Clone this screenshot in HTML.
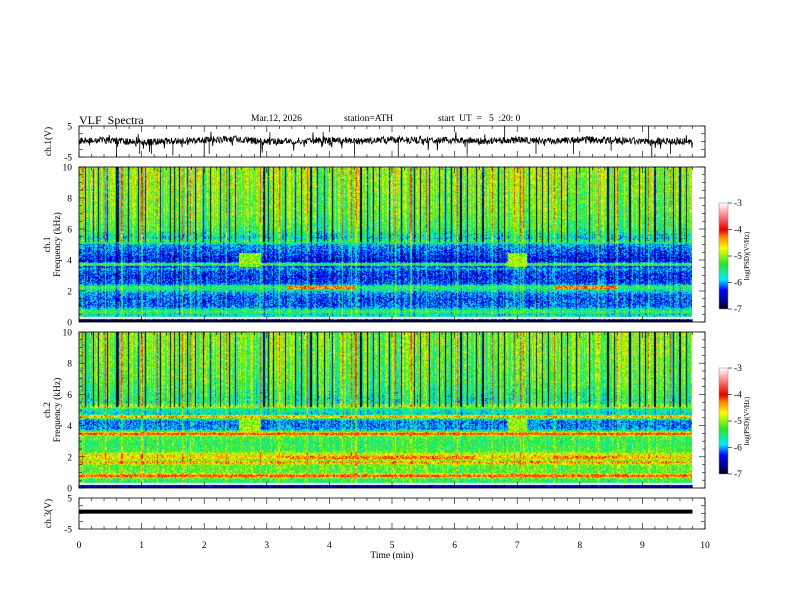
<!DOCTYPE html>
<html><head><meta charset="utf-8"><style>
body{margin:0;background:#fff}
#root{position:relative;width:792px;height:612px;overflow:hidden;background:#fff;font-family:"Liberation Serif",serif;color:#000}
.t{position:absolute;font-size:9px;white-space:nowrap;line-height:1}
canvas{position:absolute}
</style></head><body>
<div id="root">
<div class="t" style="left:79px;top:114px;font-size:12px">VLF&nbsp;&nbsp;Spectra</div>
<div class="t" style="left:251px;top:115px;font-size:9.5px">Mar.12, 2026</div>
<div class="t" style="left:344px;top:115px;font-size:9.5px">station=ATH</div>
<div class="t" style="left:438px;top:115px;font-size:9.5px">start&nbsp; UT&nbsp; =&nbsp;&nbsp; 5&nbsp; :20: 0</div>
<canvas id="spec1" width="613" height="155" style="left:79px;top:167px"></canvas>
<canvas id="spec2" width="613" height="156" style="left:79px;top:332px"></canvas>
<canvas id="cb1" width="9" height="106" style="left:719px;top:203px"></canvas>
<canvas id="cb2" width="9" height="106" style="left:719px;top:368px"></canvas>
<svg id="ov" width="792" height="612" style="position:absolute;left:0;top:0"></svg>
</div>
<script>
// ---- data ----
const timeTicks=[0,1,2,3,4,5,6,7,8,9,10];
const freqTicks=[0,2,4,6,8,10];
const cbTicks=[-3,-4,-5,-6,-7];
const ch1Freq=[0,0.15,0.25,0.3,0.5,0.7,0.9,1.0,1.5,1.9,2.1,2.3,2.5,3.0,3.3,3.5,3.6,3.7,3.8,3.9,4.0,4.5,5.0,5.15,5.3,5.45,6.0,7,10];
const ch1Level=[-7,-7,-5.6,-5.5,-5.8,-5.3,-5.8,-6.1,-6.2,-6.0,-5.6,-5.3,-6.2,-6.3,-6.2,-5.9,-6.4,-5.3,-5.3,-6.4,-6.4,-6.2,-6.0,-5.5,-5.5,-5.8,-5.4,-5.2,-5.0];
const ch2Freq=[0,0.1,0.2,0.3,0.5,0.65,0.75,0.85,0.95,1.0,1.5,1.62,1.72,1.82,1.95,2.1,2.25,2.4,3.0,3.35,3.45,3.55,3.65,3.8,4.3,4.45,4.55,4.65,4.75,5.1,5.2,5.3,5.5,7,10];
const ch2Level=[-7,-6.5,-6.8,-5.5,-5.4,-5.2,-4.1,-4.1,-4.8,-5.2,-5.2,-4.4,-4.4,-5.2,-4.6,-4.6,-4.9,-5.3,-5.4,-5.2,-4.1,-4.1,-5.3,-6.0,-6.1,-5.7,-4.5,-4.5,-5.8,-5.6,-5.0,-5.0,-5.6,-5.3,-5.1];
const darkTimes=[0.1,0.22,0.3,0.45,0.6,0.62,0.78,0.95,1.05,1.3,1.45,1.52,1.6,1.72,1.85,1.98,2.1,2.25,2.4,2.5,2.95,3.02,3.1,3.3,3.45,3.55,3.7,3.8,3.92,4.05,4.5,4.6,4.7,4.8,4.95,5.15,5.35,5.45,5.6,5.75,5.85,5.95,6.1,6.2,6.35,6.45,6.7,6.8,7.2,7.3,7.4,7.5,7.7,7.8,7.95,8.15,8.45,8.55,8.8,8.95,9.05,9.2,9.35,9.5,9.6,9.7];
const brightTimes=[0.05,0.42,0.68,1.0,1.25,1.65,1.78,2.35,2.9,3.2,3.65,4.2,4.35,4.42,5.05,5.3,5.55,6.05,6.6,6.95,7.05,7.1,7.6,8.3,8.6,9.1,9.45];
const blobTimes=[2.55,2.9,6.85,7.15];
const segCh1=[[3.3,4.4,2.25],[7.6,8.6,2.25]];
const segCh2=[[3.3,6.3,2.0],[7.6,8.6,2.0]];
const waveTimes=[0,0.5,1,1.5,2,2.5,3,3.5,4,4.5,5,5.5,6,6.5,7,7.5,8,8.5,9,9.5,9.8];
const waveBase=[0.3,0.5,-0.3,0.2,0.5,0.8,-0.1,0.2,0.3,0.0,0.6,0.3,0.4,0.2,0.5,0.1,0.6,0.3,0.2,0.1,0.0];
const spikeTimes=[0.6,0.97,1.16,1.5,2.0,2.08,2.9,3.05,3.9,4.4,5.1,6.2,6.8,7.3,7.9,8.5,9.1,9.15,9.45];
const spikeAmp=[-5,-4,-4,-4.5,-5,-4,-5,3,3,-4,-5,-4,5,-4,-4,-3,5,-5,-4];
const ch3Level=[0.6];
// ---- helpers ----
const X0=79,XW=626; const xs=t=>X0+t/10*XW;
function hash(a,b){let h=(a*374761393+b*668265263)|0;h=(h^(h>>>13))*1274126177|0;return ((h^(h>>>16))>>>0)/4294967296;}
function interp(xa,ya,x){if(x<=xa[0])return ya[0];for(let i=1;i<xa.length;i++)if(x<=xa[i]){const u=(x-xa[i-1])/(xa[i]-xa[i-1]);return ya[i-1]+u*(ya[i]-ya[i-1]);}return ya[ya.length-1];}
const cmV=[-7,-6.8,-6.3,-5.9,-5.3,-4.7,-4.3,-4,-3.5,-3];
const cmC=[[0,0,0],[0,0,120],[0,0,255],[0,235,255],[40,230,40],[255,255,0],[255,140,0],[230,0,0],[255,120,120],[255,255,255]];
function cmap(v){v=Math.max(-7,Math.min(-3,v));for(let i=1;i<cmV.length;i++)if(v<=cmV[i]){const u=(v-cmV[i-1])/(cmV[i]-cmV[i-1]);return cmC[i-1].map((c,k)=>c+u*(cmC[i][k]-c));}return cmC[cmC.length-1];}
function near(arr,t,w){for(const a of arr)if(Math.abs(a-t)<w)return true;return false;}
function drawSpec(id,fr,lv,segs,seed,lowDark){
 const cv=document.getElementById(id),g=cv.getContext('2d'),W=cv.width,H=cv.height,im=g.createImageData(W,H);
 for(let c=0;c<W;c++){const t=c/W*9.8;
  const dark=near(darkTimes,t,0.009),bright=near(brightTimes,t,0.009);
  const cn=(hash(c,seed)-0.45)*0.9;
  const blob=(t>blobTimes[0]&&t<blobTimes[1])||(t>blobTimes[2]&&t<blobTimes[3]);
  for(let r=0;r<H;r++){const f=10*(1-r/H);
   let v=interp(fr,lv,f);
   if(f>0.3){v+=cn*(f>5.2?1:0.4); if(dark)v-=(f>5.2?1.7:lowDark); if(bright)v+=(f>5.2?1.1:0.5);}
   if(blob&&f>3.6&&f<4.5)v=Math.max(v,-5.0);
   for(const s of segs)if(t>s[0]&&t<s[1]&&Math.abs(f-s[2])<0.08)v=-4.3;
   v+=(hash(c*7+r,r*13+seed)-0.5)*0.8;
   const col=cmap(v),k=(r*W+c)*4;im.data[k]=col[0];im.data[k+1]=col[1];im.data[k+2]=col[2];im.data[k+3]=255;}}
 g.putImageData(im,0,0);
 g.fillStyle='#fff';g.fillRect(0,H-5,W,2);
}
drawSpec('spec1',ch1Freq,ch1Level,segCh1,3,0.3);
drawSpec('spec2',ch2Freq,ch2Level,segCh2,9,0.2);
['cb1','cb2'].forEach(id=>{const g=document.getElementById(id).getContext('2d');for(let r=0;r<106;r++){const c=cmap(-3-4*r/105);g.fillStyle=`rgb(${c[0]|0},${c[1]|0},${c[2]|0})`;g.fillRect(0,r,9,1);}});
// ---- SVG overlay ----
const NS='http://www.w3.org/2000/svg',ov=document.getElementById('ov');
function el(tag,at,txt){const e=document.createElementNS(NS,tag);for(const k in at)e.setAttribute(k,at[k]);if(txt!==undefined)e.textContent=txt;ov.appendChild(e);return e;}
function line(x1,y1,x2,y2,w,c){return el('line',{x1,y1,x2,y2,stroke:c||'#000','stroke-width':w||0.7});}
function txt(x,y,s,anchor,name,rot){const e=el('text',{x,y,'font-family':'Liberation Serif, serif','font-size':9.5,'text-anchor':anchor||'middle'},s);if(rot)e.setAttribute('transform',`rotate(-90 ${x} ${y})`);return e;}
const panels=[{top:126,bot:157,name:'ch1-wave'},{top:167,bot:322,name:'ch1-spec'},{top:332,bot:488,name:'ch2-spec'},{top:498,bot:529,name:'ch3-wave'}];
panels.forEach(p=>{const r=el('rect',{x:X0,y:p.top,width:XW,height:p.bot-p.top,fill:'none',stroke:'#000','stroke-width':0.8});
 for(let i=0;i<=50;i++){const x=xs(i/5),L=i%5==0?6:3;line(x,p.top,x,p.top+L,0.6);line(x,p.bot,x,p.bot-L,0.6);}
});
[[167,322,'ch1'],[332,488,'ch2']].forEach(([tp,bt,n])=>{const ys=f=>bt-f/10*(bt-tp);
 for(let f=0;f<=10;f+=0.5){const L=f%2==0?6:3;line(X0,ys(f),X0+L,ys(f),0.6);line(X0+XW,ys(f),X0+XW-L,ys(f),0.6);}
 freqTicks.forEach(f=>{txt(72,ys(f)+3.5,String(f),'end',n+'-freq-tick-'+f);});
 const mid=(tp+bt)/2;txt(50,mid,n==='ch1'?'ch.1':'ch.2','middle',n+'-channel-label',true);txt(60,mid,'Frequency  (kHz)','middle',n+'-freq-axis-title',true);
});
[[126,157,'ch.1(V)','ch1'],[498,529,'ch.3(V)','ch3']].forEach(([tp,bt,lab,n])=>{
 [5,-5].forEach(v=>{const y=v>0?tp:bt;txt(72,y+3.5,String(v),'end',n+'-volt-tick-'+(v>0?'5':'m5'));});
 for(let k=0;k<=4;k++){const y=tp+k*(bt-tp)/4;line(X0,y,X0+4,y,0.6);line(X0+XW,y,X0+XW-4,y,0.6);}
 txt(51,(tp+bt)/2,lab,'middle',n+'-volt-axis-title',true);
});
timeTicks.forEach(t=>txt(xs(t),548,String(t),'middle','time-tick-'+t));
txt(392,558,'Time  (min)','middle','x-axis-title');
[[203,309,'1'],[368,474,'2']].forEach(([tp,bt,n])=>{el('rect',{x:719,y:tp,width:9,height:bt-tp,fill:'none',stroke:'#888','stroke-width':0.5});
 cbTicks.forEach(v=>{const y=tp+(-3-v)/4*(bt-tp);line(728,y,732,y,0.6);txt(734,y+3,String(v),'start','colorbar'+n+'-tick-'+(-v));});
 const e=txt(749,(tp+bt)/2,'log(PSD)(V²/Hz)','middle','colorbar'+n+'-title',true);e.setAttribute('font-size','7');
});
// ch1 waveform
const vy1=v=>141.5-v/10*31;
let d='';const N=1400;
for(let i=0;i<=N;i++){const t=i/N*9.8;const h=hash(i,77);let v=interp(waveTimes,waveBase,t)+(h-0.5)*2.2;if(hash(i,91)>0.93)v+=(hash(i,5)-0.6)*5;d+=(i?'L':'M')+xs(t).toFixed(1)+' '+vy1(v).toFixed(1);}
const wp=el('path',{d,fill:'none',stroke:'#000','stroke-width':0.8});
spikeTimes.forEach((t,i)=>{const s=line(xs(t),vy1(interp(waveTimes,waveBase,t)),xs(t),vy1(spikeAmp[i]),0.8);});
// ch3 waveform
const vy3=v=>513.5-v/10*31;
const w3=line(X0,vy3(ch3Level[0]),xs(9.8),vy3(ch3Level[0]),4);
</script>
</body></html>
